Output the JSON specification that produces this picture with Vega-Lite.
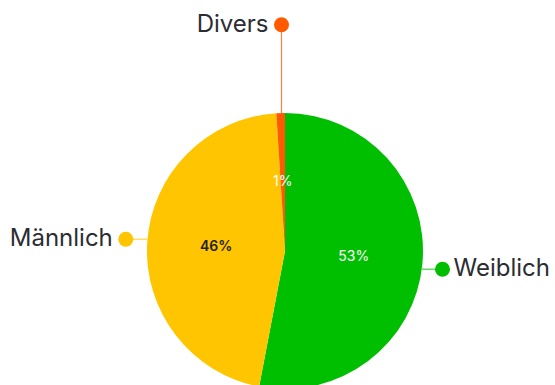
{
  "$schema": "https://vega.github.io/schema/vega-lite/v6.json",
  "width": 555,
  "height": 385,
  "autosize": {"type": "none"},
  "padding": 0,
  "background": "white",
  "config": {"view": {"stroke": null}, "font": "Inter"},
  "datasets": {
    "shares": [
      {"gender": "Weiblich", "share": 0.53},
      {"gender": "Männlich", "share": 0.46},
      {"gender": "Divers", "share": 0.01}
    ],
    "callouts": [
      {"gender": "Divers", "dotX": -0.0254, "dotY": 1.639, "edgeX": -0.0254, "edgeY": 0.9997},
      {"gender": "Männlich", "dotX": -1.1536, "dotY": 0.0855, "edgeX": -0.9963, "edgeY": 0.0855},
      {"gender": "Weiblich", "dotX": 1.1413, "dotY": -0.1319, "edgeX": 0.9913, "edgeY": -0.1319}
    ]
  },
  "layer": [
    {
      "data": {"name": "shares"},
      "mark": {"type": "arc", "outerRadius": 138},
      "encoding": {
        "x": {"datum": 0, "type": "quantitative", "scale": {"domain": [-2.0652, 1.9565], "nice": false, "zero": false}, "axis": null},
        "y": {"datum": 0, "type": "quantitative", "scale": {"domain": [-0.971, 1.8188], "nice": false, "zero": false}, "axis": null},
        "theta": {"field": "share", "type": "quantitative", "stack": true},
        "order": {"field": "share", "sort": "descending"},
        "color": {"field": "gender", "type": "nominal", "scale": {"domain": ["Weiblich", "Männlich", "Divers"], "range": ["#00bf00", "#ffc500", "#ff5a00"]}, "legend": null}
      }
    },
    {
      "data": {"name": "shares"},
      "mark": {"type": "text", "radius": 69, "fontSize": 14, "fill": "white", "fontWeight": "normal"},
      "encoding": {
        "x": {"datum": 0, "type": "quantitative", "axis": null},
        "y": {"datum": 0, "type": "quantitative", "axis": null},
        "theta": {"field": "share", "type": "quantitative", "stack": true},
        "order": {"field": "share", "sort": "descending"},
        "text": {"field": "share", "type": "quantitative", "format": ".0%"},
        "opacity": {"condition": {"test": "datum.gender === 'Männlich'", "value": 0}, "value": 1}
      }
    },
    {
      "data": {"name": "shares"},
      "mark": {"type": "text", "radius": 69, "fontSize": 14, "fill": "#1e1e1e", "fontWeight": 600},
      "encoding": {
        "x": {"datum": 0, "type": "quantitative", "axis": null},
        "y": {"datum": 0, "type": "quantitative", "axis": null},
        "theta": {"field": "share", "type": "quantitative", "stack": true},
        "order": {"field": "share", "sort": "descending"},
        "text": {"field": "share", "type": "quantitative", "format": ".0%"},
        "opacity": {"condition": {"test": "datum.gender === 'Männlich'", "value": 1}, "value": 0}
      }
    },
    {
      "data": {"name": "callouts"},
      "mark": {"type": "rule", "strokeWidth": 1.2, "strokeOpacity": 0.75},
      "encoding": {
        "x": {"field": "dotX", "type": "quantitative", "axis": null},
        "y": {"field": "dotY", "type": "quantitative", "axis": null},
        "x2": {"field": "edgeX"},
        "y2": {"field": "edgeY"},
        "color": {"field": "gender", "type": "nominal", "legend": null}
      }
    },
    {
      "data": {"name": "callouts"},
      "mark": {"type": "point", "filled": true, "size": 225, "opacity": 1, "shape": "circle"},
      "encoding": {
        "x": {"field": "dotX", "type": "quantitative", "axis": null},
        "y": {"field": "dotY", "type": "quantitative", "axis": null},
        "color": {"field": "gender", "type": "nominal", "legend": null}
      }
    },
    {
      "data": {"name": "callouts"},
      "transform": [{"filter": "datum.gender !== 'Weiblich'"}],
      "mark": {"type": "text", "align": "right", "baseline": "middle", "dx": -13, "fontSize": 24, "fill": "#2b2d33"},
      "encoding": {
        "x": {"field": "dotX", "type": "quantitative", "axis": null},
        "y": {"field": "dotY", "type": "quantitative", "axis": null},
        "text": {"field": "gender", "type": "nominal"}
      }
    },
    {
      "data": {"name": "callouts"},
      "transform": [{"filter": "datum.gender === 'Weiblich'"}],
      "mark": {"type": "text", "align": "left", "baseline": "middle", "dx": 11, "fontSize": 24, "fill": "#2b2d33"},
      "encoding": {
        "x": {"field": "dotX", "type": "quantitative", "axis": null},
        "y": {"field": "dotY", "type": "quantitative", "axis": null},
        "text": {"field": "gender", "type": "nominal"}
      }
    }
  ]
}
